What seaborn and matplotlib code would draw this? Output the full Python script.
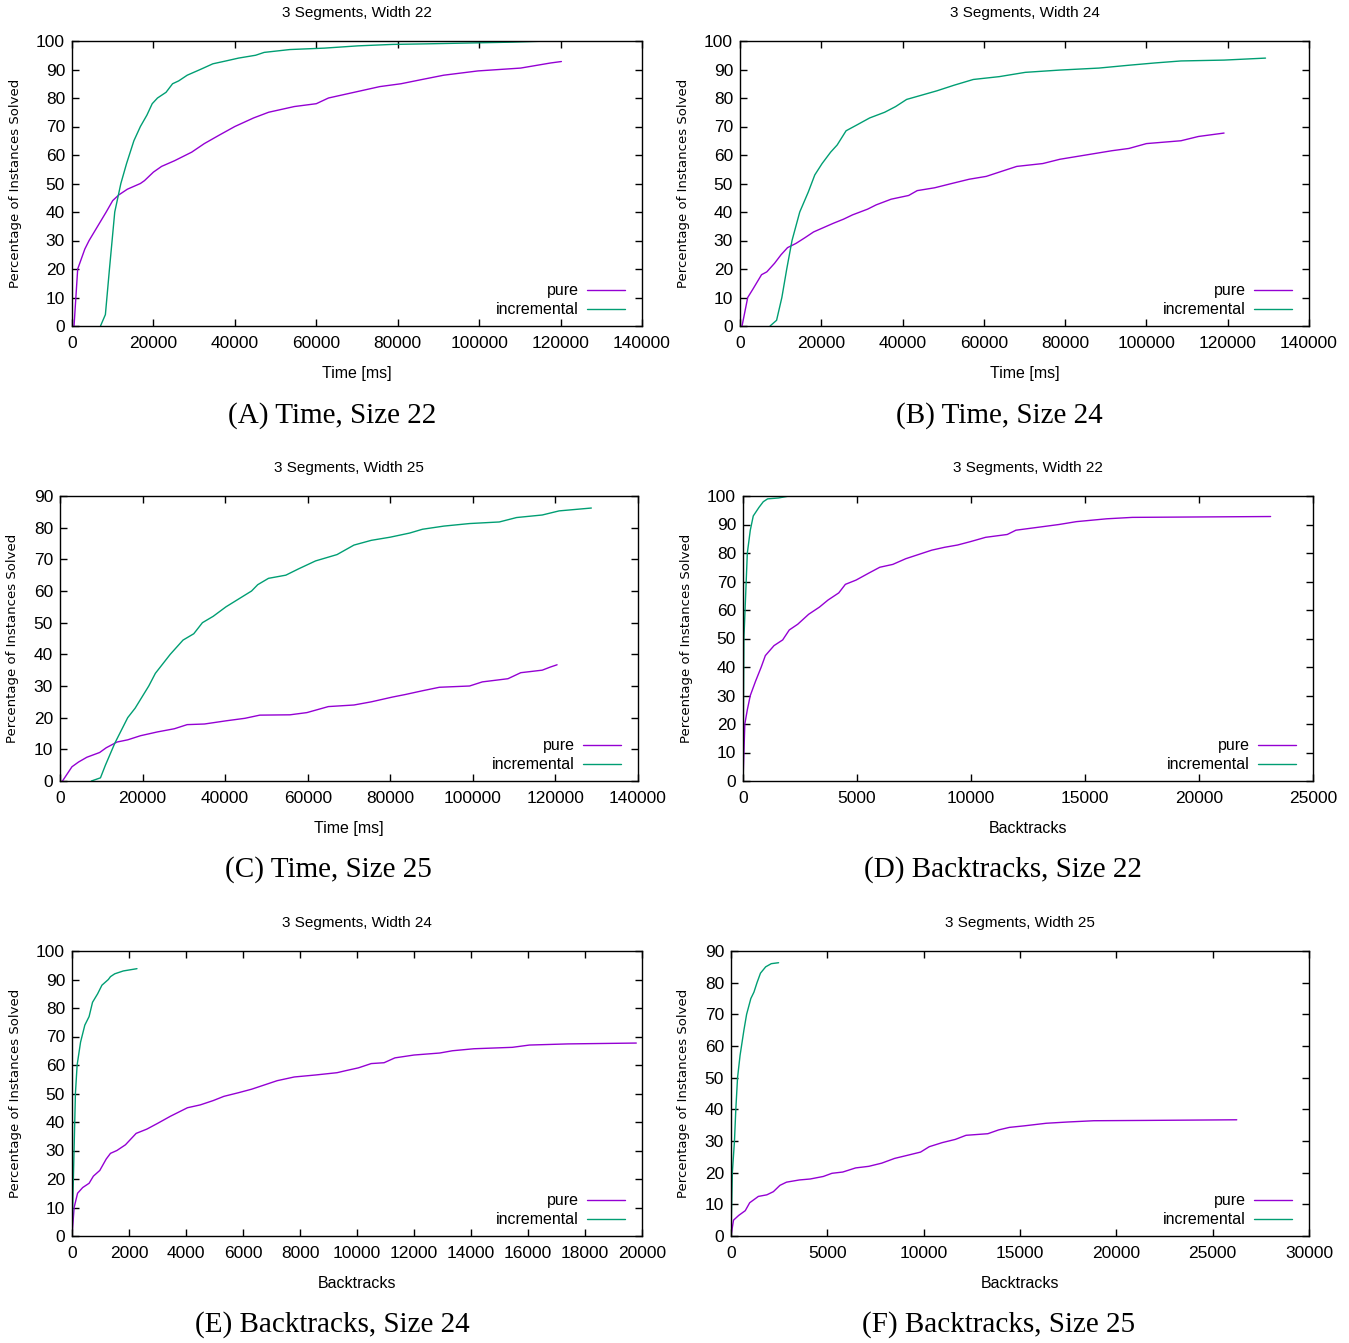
import numpy as np
import pandas as pd
import seaborn as sns
import matplotlib.pyplot as plt

# (A) Time, size 22
a_pure_x = [500, 1400, 3150, 4200, 6300, 8400, 10000, 11500, 13600, 16800, 17800, 20000, 22000, 25200,
            29400, 32500, 36200, 40000, 44600, 48300, 54600, 60000, 63000, 69300, 75600, 80800, 86000,
            91300, 99700, 110200, 117600, 120200]
a_pure_y = [0, 20, 27, 30, 35, 40, 44, 46, 48, 50, 51, 54, 56, 58, 61, 64, 67, 70, 73, 75, 77, 78, 80,
            82, 84, 85, 86.5, 88, 89.5, 90.5, 92.3, 92.8]
a_inc_x = [7000, 8200, 9200, 10500, 12000, 13400, 15200, 16800, 18400, 19700, 21000, 23100, 24700, 26200,
           28300, 31500, 34600, 37800, 40900, 45100, 47200, 53500, 62000, 70300, 78700, 87100, 97600,
           108100, 117000]
a_inc_y = [0, 4, 20, 40, 50, 57, 65, 70, 74, 78, 80, 82, 85, 86, 88, 90, 92, 93, 94, 95, 96, 97, 97.5,
           98.3, 98.8, 99, 99.3, 99.6, 100]

# (B) Time, size 24
b_pure_x = [500, 1900, 3200, 5300, 6600, 8500, 10100, 11700, 13800, 16000, 18100, 19700, 22900, 25500,
            27700, 31400, 33500, 37200, 41500, 43600, 47900, 52100, 56400, 60600, 63800, 68100, 74500,
            78700, 85100, 91500, 95700, 100000, 108500, 112800, 119100]
b_pure_y = [0, 10, 13, 18, 19, 22, 25, 27.5, 29, 31, 33, 34, 36, 37.5, 39, 41, 42.5, 44.5, 45.8, 47.5,
            48.5, 50, 51.5, 52.5, 54, 56, 57, 58.5, 60, 61.5, 62.3, 64, 65, 66.5, 67.7]
b_inc_x = [7400, 9000, 10300, 11500, 12800, 14700, 16800, 18400, 20200, 22300, 23900, 26100, 28700, 31900,
           35600, 38300, 41000, 44700, 48400, 52700, 57400, 63800, 70200, 78700, 88300, 95700, 102100,
           108500, 119100, 129300]
b_inc_y = [0, 2, 10, 20, 30, 40, 47, 53, 57, 61, 63.5, 68.5, 70.5, 73, 75, 77, 79.5, 81, 82.5, 84.5, 86.5,
           87.5, 89, 89.8, 90.5, 91.5, 92.3, 93, 93.3, 94]

# (C) Time, size 25
c_pure_x = [600, 2900, 4500, 6500, 9600, 11200, 13800, 16400, 19500, 23600, 27700, 30800, 35000, 40200,
            44800, 48400, 55700, 59800, 65000, 71200, 75400, 80500, 83600, 87800, 91900, 99200, 102300,
            108500, 111600, 116800, 118800, 120400]
c_pure_y = [0, 4.5, 6, 7.5, 9, 10.5, 12.3, 13, 14.3, 15.5, 16.5, 17.8, 18, 19, 19.8, 20.8, 20.9, 21.6,
            23.5, 24, 25, 26.5, 27.3, 28.5, 29.6, 30, 31.3, 32.3, 34.2, 35, 36, 36.7]
c_inc_x = [7600, 9800, 11000, 13300, 16400, 18200, 21500, 23100, 26700, 29800, 32400, 34500, 37100, 40200,
           43300, 46400, 47900, 50500, 54700, 57800, 61900, 67100, 71200, 75400, 80000, 84700, 87800,
           93000, 99200, 106400, 110600, 116800, 120900, 128700]
c_inc_y = [0, 1, 5, 12, 20, 23, 30, 34, 40, 44.5, 46.5, 50, 52, 55, 57.5, 60, 62, 64, 65, 67, 69.5, 71.5,
           74.5, 76, 77, 78.3, 79.5, 80.5, 81.3, 81.8, 83.2, 84, 85.3, 86.2]

# (D) Backtracks, size 22
d_pure_x = [0, 80, 190, 320, 550, 800, 980, 1360, 1740, 2030, 2400, 2880, 3350, 3730, 4200, 4490, 4960,
            5530, 6000, 6570, 7140, 7710, 8280, 8840, 9410, 9980, 10640, 11590, 11970, 12920, 13860,
            14620, 15950, 17080, 23140]
d_pure_y = [0, 20, 25, 30, 35, 40, 44, 47.5, 49.5, 53, 55, 58.5, 61, 63.5, 66, 69, 70.5, 73, 75, 76, 78,
            79.5, 81, 82, 82.8, 84, 85.5, 86.5, 88, 89, 90, 91, 92, 92.5, 92.8]
d_inc_x = [0, 40, 190, 320, 450, 700, 890, 1080, 1550, 2030]
d_inc_y = [0, 50, 80, 88, 93, 96, 98, 99, 99.3, 100]

# (E) Backtracks, size 24
e_pure_x = [0, 75, 195, 375, 600, 750, 975, 1200, 1350, 1575, 1875, 2250, 2625, 3000, 3450, 3750, 4050,
            4500, 4950, 5330, 5850, 6300, 6750, 7200, 7800, 8550, 9300, 9600, 10050, 10500, 10950, 11330,
            12000, 12900, 13350, 14100, 15450, 16050, 17400, 19800]
e_pure_y = [0, 10, 15, 17, 18.5, 21, 23, 27, 29, 30, 32, 36, 37.5, 39.5, 42, 43.5, 45, 46, 47.5, 49,
            50.3, 51.5, 53, 54.5, 55.8, 56.5, 57.3, 58, 59, 60.5, 60.8, 62.5, 63.5, 64.2, 65, 65.7, 66.2,
            67, 67.4, 67.7]
e_inc_x = [0, 120, 180, 300, 450, 600, 720, 900, 1050, 1275, 1350, 1500, 1800, 2280]
e_inc_y = [0, 50, 60, 68, 74, 77, 82, 85, 88, 90, 91, 92, 93, 93.8]

# (F) Backtracks, size 25
f_pure_x = [0, 130, 400, 740, 970, 1420, 1860, 2200, 2540, 2880, 3550, 4110, 4790, 5240, 5800, 6470,
            7150, 7820, 8490, 9170, 9840, 10290, 10970, 11640, 12200, 13330, 13890, 14450, 15240, 16360,
            17480, 18830, 21540, 26250]
f_pure_y = [0, 5, 6.5, 8, 10.5, 12.5, 13, 14, 16, 17, 17.7, 18, 18.8, 19.8, 20.2, 21.5, 22, 23, 24.5,
            25.5, 26.5, 28.2, 29.5, 30.5, 31.8, 32.3, 33.5, 34.3, 34.8, 35.6, 36, 36.4, 36.5, 36.7]
f_inc_x = [0, 70, 180, 250, 340, 470, 670, 810, 1030, 1190, 1350, 1530, 1800, 2090, 2470]
f_inc_y = [0, 20, 30, 40, 50, 57, 65, 70, 75, 77, 80, 83, 85, 86, 86.3]

titles = ["3 Segments, Width 22", "3 Segments, Width 24", "3 Segments, Width 25",
          "3 Segments, Width 22", "3 Segments, Width 24", "3 Segments, Width 25"]
captions = ["(A) Time, Size 22", "(B) Time, Size 24", "(C) Time, Size 25",
            "(D) Backtracks, Size 22", "(E) Backtracks, Size 24", "(F) Backtracks, Size 25"]
xlabels = ["Time [ms]"] * 3 + ["Backtracks"] * 3
series = ["pure", "incremental"]
palette = {"pure": "#9400d3", "incremental": "#009e73"}

data = [(a_pure_x, a_pure_y, a_inc_x, a_inc_y), (b_pure_x, b_pure_y, b_inc_x, b_inc_y),
        (c_pure_x, c_pure_y, c_inc_x, c_inc_y), (d_pure_x, d_pure_y, d_inc_x, d_inc_y),
        (e_pure_x, e_pure_y, e_inc_x, e_inc_y), (f_pure_x, f_pure_y, f_inc_x, f_inc_y)]

# layout in pixels: left, right, top, bottom of each plot box
W, H = 1349, 1343
boxes = [(72, 642, 41, 326), (740, 1309, 41, 326), (60, 638, 496, 781),
         (743, 1313, 496, 781), (72, 642, 951, 1236), (731, 1309, 951, 1236)]
xlims = [140000, 140000, 140000, 25000, 20000, 30000]
xsteps = [20000, 20000, 20000, 5000, 2000, 5000]
ylims = [100, 100, 90, 100, 100, 90]
ylab_x = [-0.087, -0.088, -0.071, -0.088, -0.087, -0.071]
cap_x = [332, 999, 328, 1003, 332, 999]
cap_y = [416, 870, 1325]

sns.set_style("ticks")
plt.rcParams["font.family"] = ["Liberation Sans", "DejaVu Sans"]
plt.rcParams["text.color"] = "black"
plt.rcParams["axes.labelcolor"] = "black"

fig = plt.figure(figsize=(W / 100, H / 100), dpi=100)

for i, (px, py, ix, iy) in enumerate(data):
    l, r, t, b = boxes[i]
    ax = fig.add_axes([l / W, 1 - b / H, (r - l) / W, (b - t) / H])

    df = pd.concat([
        pd.DataFrame({"x": px, "y": py, "solver": "pure"}),
        pd.DataFrame({"x": ix, "y": iy, "solver": "incremental"}),
    ])
    sns.lineplot(data=df, x="x", y="y", hue="solver", hue_order=series, palette=palette,
                 estimator=None, sort=False, linewidth=1.0, ax=ax)

    ax.set_xlim(0, xlims[i])
    ax.set_ylim(0, ylims[i])
    ax.set_xticks(np.arange(0, xlims[i] + 1, xsteps[i]))
    ax.set_yticks(np.arange(0, ylims[i] + 1, 10))
    ax.tick_params(direction="in", length=5, width=1, top=True, right=True, labelsize=12.5, colors="black")
    ax.tick_params(axis="x", pad=7)
    ax.tick_params(axis="y", pad=5)
    for s in ax.spines.values():
        s.set_visible(True)
        s.set_linewidth(1.0)
        s.set_color("black")

    ax.set_title(titles[i], fontsize=11, pad=17)
    ax.set_xlabel(xlabels[i], fontsize=11.5)
    ax.xaxis.set_label_coords(0.5, -0.14)
    ax.set_ylabel("Percentage of Instances Solved", fontsize=9.5, family="DejaVu Sans")
    ax.yaxis.set_label_coords(ylab_x[i], 0.5)

    leg = ax.legend(loc="lower right", bbox_to_anchor=(0.986, 0.0), frameon=False, markerfirst=False,
                    fontsize=11.5, handlelength=2.4, handletextpad=0.5, labelspacing=0.25,
                    borderaxespad=0.15)
    for txt in leg.get_texts():
        txt.set_ha("right")

    fig.text(cap_x[i] / W, 1 - cap_y[i // 2] / H, captions[i], ha="center", va="center",
             fontsize=21, family="Liberation Serif")

fig.savefig("out.png", dpi=100)
